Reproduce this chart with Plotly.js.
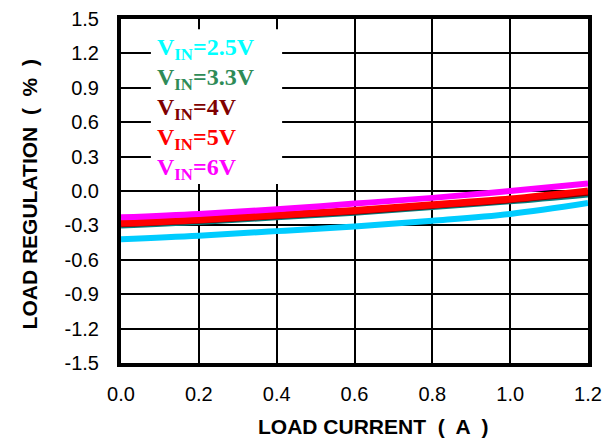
<!DOCTYPE html>
<html>
<head>
<meta charset="utf-8">
<script src="https://cdn.plot.ly/plotly-3.0.1.min.js"></script>
<style>html,body{margin:0;padding:0;background:#fff;}#chart{width:611px;height:440px;}</style>
</head>
<body>
<div id="chart"></div>
<script>
const loadCurrent = [0, 0.2, 0.4, 0.6, 0.8, 1.0, 1.2];
const vin25 = [-0.42, -0.39, -0.35, -0.31, -0.26, -0.20, -0.105];
const vin33 = [-0.30, -0.27, -0.23, -0.19, -0.14, -0.09, -0.03];
const vin4  = [-0.29, -0.26, -0.22, -0.18, -0.13, -0.08, -0.015];
const vin5  = [-0.28, -0.25, -0.21, -0.17, -0.12, -0.07, 0.00];
const vin6  = [-0.23, -0.20, -0.16, -0.11, -0.06, 0.00, 0.065];
const seriesNames = ["V<sub>IN</sub>=2.5V", "V<sub>IN</sub>=3.3V", "V<sub>IN</sub>=4V", "V<sub>IN</sub>=5V", "V<sub>IN</sub>=6V"];
const lineColors = ["#00CCFF", "#008080", "#800000", "#FF0000", "#FF00FF"];
const labelColors = ["#00FFFF", "#2E8B57", "#800000", "#FF0000", "#FF00FF"];
const yTicks = [-1.5, -1.2, -0.9, -0.6, -0.3, 0.0, 0.3, 0.6, 0.9, 1.2, 1.5];
const xTicks = [0, 0.2, 0.4, 0.6, 0.8, 1.0, 1.2];
const xTitle = 'LOAD CURRENT  (  A  )';
const yTitle = 'LOAD REGULATION  (  %  )';

const allSeries = [vin25, vin33, vin4, vin5, vin6];
const widths = [6, 6, 6, 7, 6];
const traces = allSeries.map((ys, i) => ({
  x: loadCurrent, y: ys, type: 'scatter', mode: 'lines',
  line: {color: lineColors[i], width: widths[i], shape: 'spline'},
  name: seriesNames[i], showlegend: false, hoverinfo: 'skip'
}));

const annotations = seriesNames.map((n, i) => ({
  xref: 'paper', yref: 'paper', x: 0.072, y: 0.912 - i * 0.087,
  xanchor: 'left', yanchor: 'middle', showarrow: false,
  text: '<b>' + n + '</b>',
  font: {family: 'Liberation Serif, Times New Roman, serif', size: 24, color: labelColors[i]}
}));
annotations.push({
  xref: 'paper', yref: 'paper', x: 0.54, y: -0.186, xanchor: 'center', yanchor: 'middle',
  showarrow: false, text: '<b>' + xTitle + '</b>',
  font: {family: 'Liberation Sans, Arial, sans-serif', size: 21, color: '#000'}
});
annotations.push({
  xref: 'paper', yref: 'paper', x: -0.195, y: 0.49, xanchor: 'center', yanchor: 'middle',
  textangle: -90, showarrow: false, text: '<b>' + yTitle + '</b>',
  font: {family: 'Liberation Sans, Arial, sans-serif', size: 21, color: '#000'}
});

const layout = {
  width: 611, height: 440,
  margin: {l: 121, r: 23, t: 19, b: 77},
  paper_bgcolor: '#fff', plot_bgcolor: '#fff',
  font: {family: 'Liberation Sans, Arial, sans-serif', color: '#000'},
  xaxis: {
    range: [0, 1.2], tickvals: xTicks, ticktext: xTicks.map(v => v.toFixed(1)),
    showgrid: true, gridcolor: '#000', gridwidth: 2, zeroline: false,
    showline: true, linecolor: '#000', linewidth: 4, mirror: true,
    ticks: '', ticklabelstandoff: 10, tickfont: {size: 20, color: '#000'}
  },
  yaxis: {
    range: [-1.5, 1.5], tickvals: yTicks, ticktext: yTicks.map(v => v.toFixed(1)),
    showgrid: true, gridcolor: '#000', gridwidth: 2, zeroline: false,
    showline: true, linecolor: '#000', linewidth: 4, mirror: true,
    ticks: '', ticklabelstandoff: 14, tickfont: {size: 20, color: '#000'}
  },
  shapes: [{
    type: 'rect', xref: 'paper', yref: 'paper', layer: 'above',
    x0: 0.064, x1: 0.345, y0: 0.52, y1: 0.97,
    fillcolor: '#fff', line: {width: 0}
  }],
  annotations: annotations
};

Plotly.newPlot('chart', traces, layout, {displayModeBar: false, staticPlot: true});
</script>
</body>
</html>
